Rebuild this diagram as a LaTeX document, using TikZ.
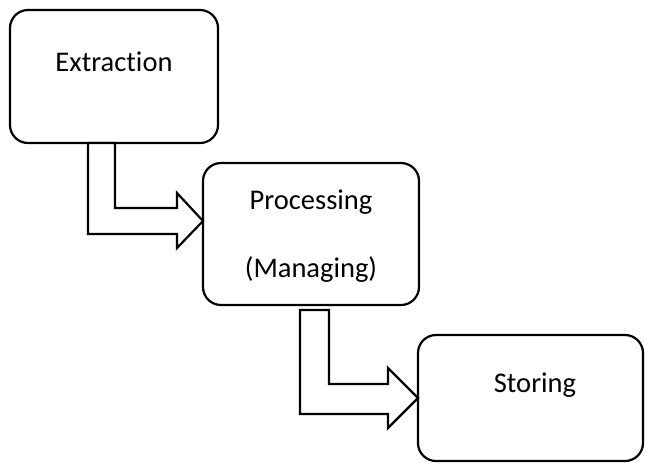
\documentclass[tikz,border=0pt]{standalone}
\usepackage{fontspec}
\setmainfont{Carlito}[RawFeature=-liga]
\begin{document}
\begin{tikzpicture}[x=1pt,y=-1pt,
  box/.style={draw=black, line width=2.2pt, rounded corners=18pt, inner sep=0pt, outer sep=0pt, fill=white},
  lbl/.style={anchor=base, inner sep=0pt, font=\fontsize{28.5}{34}\selectfont},
  blockarrow/.style={draw=black, line width=2.2pt, fill=white, line join=miter}]
\useasboundingbox (0,0) rectangle (645,464);
% boxes
\node[box, minimum width=208pt, minimum height=133pt] (b1) at (114,76.5) {};
\node[box, minimum width=216pt, minimum height=142pt] (b2) at (311,234) {};
\node[box, minimum width=225pt, minimum height=126pt] (b3) at (530.5,398) {};
% texts
\node[lbl] (t1) at (114,71) {Extraction};
\node[lbl] (t2a) at (311,209) {Processing};
\node[lbl] (t2b) at (311,277) {(Managing)};
\node[lbl] (t3) at (535,392) {Storing};
% bent block arrows
\draw[blockarrow] (88,143) -- (88,234) -- (177,234) -- (177,248) -- (203,221)
  -- (177,193) -- (177,208) -- (115,208) -- (115,143) -- cycle;
\draw[blockarrow] (300,310) -- (300,414) -- (388,414) -- (388,428) -- (418,398)
  -- (388,368) -- (388,384) -- (329,384) -- (329,310) -- cycle;
\end{tikzpicture}
\end{document}
